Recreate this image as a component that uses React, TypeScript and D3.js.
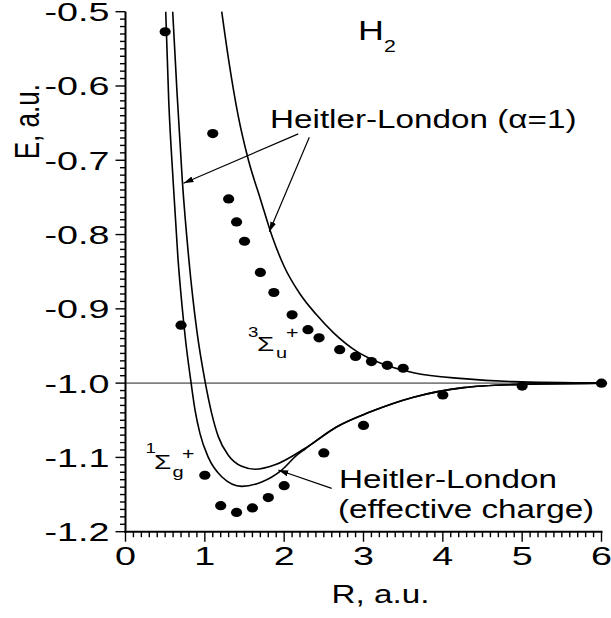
import React from "react";
import * as d3 from "d3";

// ---- data ----
// exact (circles), singlet ground state 1Σg+
const singletR = [0.5, 0.7, 1.0, 1.2, 1.4, 1.6, 1.8, 2.0, 2.5, 3.0, 4.0, 5.0, 6.0];
const singletE = [-0.527, -0.922, -1.124, -1.165, -1.174, -1.168, -1.154, -1.138, -1.094, -1.057, -1.016, -1.004, -1.0];
// exact (circles), triplet 3Σu+
const tripletR = [1.1, 1.3, 1.4, 1.5, 1.7, 1.87, 2.1, 2.3, 2.44, 2.7, 2.9, 3.1, 3.3, 3.5];
const tripletE = [-0.664, -0.752, -0.783, -0.809, -0.851, -0.878, -0.908, -0.928, -0.939, -0.955, -0.964, -0.971, -0.976, -0.98];
// Heitler-London alpha=1, singlet
const hlSingR = [0.595, 0.65, 0.716, 0.8, 0.9, 1.0, 1.087, 1.17, 1.296, 1.465, 1.632, 1.885, 2.26, 2.66, 3.08, 3.63, 4.26, 4.89, 6.0];
const hlSingE = [-0.5, -0.61, -0.727, -0.835, -0.93, -0.996, -1.041, -1.072, -1.097, -1.112, -1.116, -1.11, -1.088, -1.059, -1.039, -1.019, -1.006, -1.002, -1.0];
// Heitler-London effective charge, singlet
const ecSingR = [0.507, 0.545, 0.6, 0.66, 0.71, 0.76, 0.822, 0.876, 0.939, 1.044, 1.213, 1.465, 1.717, 1.969, 2.16, 2.26, 2.66, 3.08, 3.63, 4.26, 4.89, 6.0];
const ecSingE = [-0.5, -0.62, -0.727, -0.83, -0.893, -0.945, -0.996, -1.036, -1.068, -1.1, -1.126, -1.139, -1.133, -1.117, -1.097, -1.089, -1.059, -1.039, -1.019, -1.006, -1.002, -1.0];
// Heitler-London alpha=1, triplet
const hlTripR = [1.213, 1.3, 1.42, 1.55, 1.7, 1.85, 2.0, 2.2, 2.4, 2.62, 2.91, 3.21, 3.63, 4.26, 4.89, 6.0];
const hlTripE = [-0.5, -0.565, -0.64, -0.7, -0.752, -0.803, -0.843, -0.88, -0.907, -0.932, -0.957, -0.973, -0.986, -0.994, -0.998, -1.0];

const xTicks = [0, 1, 2, 3, 4, 5, 6];
const yTicks = [-1.2, -1.1, -1.0, -0.9, -0.8, -0.7, -0.6, -0.5];

// annotation arrows [R0, E0, R1, E1] (start -> tip)
const arrows = [
  [2.178, -0.6645, 0.731, -0.731],
  [2.317, -0.669, 1.813, -0.7963],
  [2.599, -1.1417, 1.926, -1.117],
];

const W = 611;
const H = 618;
const SX = 1.33;
const SX_TICK = 1.45;
const FONT = "'Liberation Sans', Arial, Helvetica, sans-serif";

function SText(props: any) {
  const { x, y, size, anchor, rotate, sx, children } = props;
  return (
    <text
      transform={`translate(${x},${y}) scale(${sx || SX},1)${rotate ? ` rotate(${rotate})` : ""}`}
      fontSize={size}
      textAnchor={anchor || "start"}
      fontFamily={FONT}
      fill="#000"
    >
      {children}
    </text>
  );
}

export default function App() {
  const x = d3.scaleLinear().domain([0, 6]).range([125.5, 601.5]);
  const y = d3.scaleLinear().domain([-1.2, -0.5]).range([531.7, 11.7]);

  const line = d3
    .line<[number, number]>()
    .x((d) => x(d[0]))
    .y((d) => y(d[1]))
    .curve(d3.curveMonotoneX);

  const zip = (a: number[], b: number[]) => a.map((v, i) => [v, b[i]] as [number, number]);

  const xMinor = d3.range(0, 60.5, 1).map((i) => i / 10);
  const yMinor = d3.range(-120, -49.5, 1).map((i) => i / 100);

  return (
    <svg width={W} height={H} style={{ position: "absolute", left: 0, top: 0, background: "#fff" }}>
      <defs>
        <marker
          id="ah"
          markerUnits="userSpaceOnUse"
          markerWidth={11}
          markerHeight={7}
          refX={10}
          refY={3.5}
          orient="auto"
        >
          <path d="M0,0.5 L10,3.5 L0,6.5 Z" fill="#000" />
        </marker>
      </defs>

      {/* reference line E = -1 */}
      <line x1={x(0)} x2={x(6)} y1={y(-1)} y2={y(-1)} stroke="#808080" strokeWidth={1.6} />

      {/* curves */}
      <g fill="none" stroke="#000" strokeWidth={1.6}>
        <path d={line(zip(ecSingR, ecSingE)) || ""} />
        <path d={line(zip(hlSingR, hlSingE)) || ""} />
        <path d={line(zip(hlTripR, hlTripE)) || ""} />
      </g>

      {/* points */}
      <g fill="#000">
        {singletR.map((r, i) => (
          <ellipse key={"s" + i} cx={x(r)} cy={y(singletE[i])} rx={5.6} ry={4.6} />
        ))}
        {tripletR.map((r, i) => (
          <ellipse key={"t" + i} cx={x(r)} cy={y(tripletE[i])} rx={5.6} ry={4.6} />
        ))}
      </g>

      {/* arrows */}
      <g stroke="#000" strokeWidth={1.2}>
        {arrows.map((a, i) => (
          <line key={i} x1={x(a[0])} y1={y(a[1])} x2={x(a[2])} y2={y(a[3])} markerEnd="url(#ah)" />
        ))}
      </g>

      {/* axes */}
      <g stroke="#000">
        <line x1={x(0)} x2={x(0)} y1={y(-1.2) + 1} y2={y(-0.5)} strokeWidth={2} />
        <line x1={x(0) - 1} x2={x(6) + 1} y1={y(-1.2)} y2={y(-1.2)} strokeWidth={2} />
        {xMinor.map((t, i) => (
          <line
            key={"xm" + i}
            x1={x(t)}
            x2={x(t)}
            y1={y(-1.2)}
            y2={y(-1.2) + (i % 10 === 0 ? 10 : 5.5)}
            strokeWidth={1.4}
          />
        ))}
        {yMinor.map((t, i) => (
          <line
            key={"ym" + i}
            y1={y(t)}
            y2={y(t)}
            x1={x(0)}
            x2={x(0) - (i % 10 === 0 ? 10 : 5.5)}
            strokeWidth={1.4}
          />
        ))}
      </g>

      {/* tick labels */}
      {xTicks.map((t) => (
        <SText key={"xl" + t} x={x(t)} y={565} size={26} anchor="middle" sx={SX_TICK}>
          {String(t)}
        </SText>
      ))}
      {yTicks.map((t) => (
        <SText key={"yl" + t} x={109.5} y={y(t) + 9.4} size={26} anchor="end" sx={SX_TICK}>
          {t.toFixed(1)}
        </SText>
      ))}

      {/* axis titles */}
      <SText x={380.5} y={603} size={25} anchor="middle">
        R, a.u.
      </SText>
      <SText x={39} y={121.7} size={26} anchor="middle" rotate={-90}>
        E, a.u.
      </SText>

      {/* H2 */}
      <SText x={358} y={40} size={27}>H</SText>
      <SText x={384} y={51.5} size={16}>2</SText>

      {/* annotations */}
      <SText x={270} y={127.7} size={25}>Heitler-London (α=1)</SText>
      <SText x={339} y={488.3} size={25}>Heitler-London</SText>
      <SText x={338} y={518} size={25}>(effective charge)</SText>

      {/* 3Σu+ */}
      <SText x={248} y={336.7} size={14}>3</SText>
      <SText x={257} y={350.5} size={21}>Σ</SText>
      <SText x={276} y={358} size={15}>u</SText>
      <SText x={286} y={337.5} size={16}>+</SText>

      {/* 1Σg+ */}
      <SText x={145.5} y={453.3} size={14}>1</SText>
      <SText x={154} y={468.8} size={21}>Σ</SText>
      <SText x={172.5} y={476.5} size={15}>g</SText>
      <SText x={182} y={458.5} size={16}>+</SText>
    </svg>
  );
}
